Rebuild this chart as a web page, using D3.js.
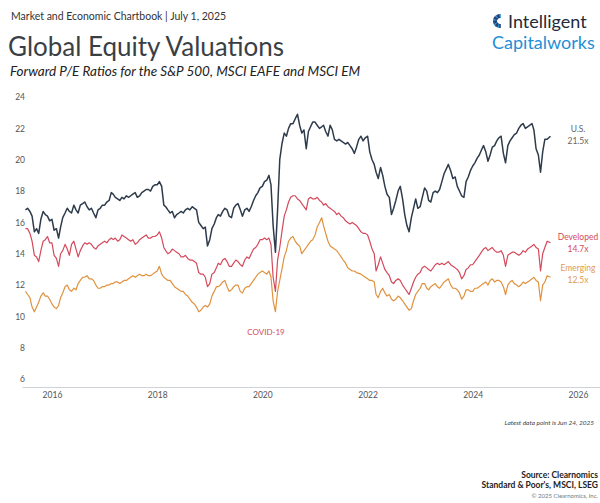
<html>
<head>
<style>
  body { margin: 0; background: #fff; font-family: Lato, "Open Sans", sans-serif; }
  svg { display: block; }
</style>
<script src="https://cdn.jsdelivr.net/npm/d3@7"></script>
</head>
<body>
<svg id="chart" width="600" height="503"></svg>
<script>

// forward P/E, one value on the 1st and the 16th of each month, Jul 2015 .. Jun 2025
let usPE = [
  16.8, 16.9, 16.7, 16.4, 15.4, 15.6, 15.3, 16.2, 16.7, 16.5, 16.4, 16.1,
  16.2, 15.5, 15.6, 15.0, 15.7, 16.3, 16.6, 16.9, 16.7, 16.6, 17.1, 16.8, 16.6, 17.1, 17.2, 17.3, 17.0, 16.8, 16.9, 16.6, 16.3, 16.8, 16.9, 17.1,
  17.1, 17.3, 17.4, 17.9, 17.8, 17.6, 17.5, 17.4, 17.6, 17.5, 17.7, 17.6, 17.7, 17.8, 17.9, 17.6, 17.7, 17.9, 18.0, 18.1, 18.1, 18.0, 18.3, 18.4,
  18.4, 18.6, 18.3, 17.1, 17.0, 16.8, 16.6, 16.7, 16.3, 16.5, 16.6, 16.7, 16.6, 16.8, 16.9, 16.8, 17.0, 16.9, 16.8, 16.0, 15.8, 15.6, 15.7, 14.5,
  14.9, 15.6, 15.9, 16.3, 16.5, 16.4, 16.7, 16.9, 16.8, 16.4, 16.3, 16.9, 17.1, 17.2, 16.8, 16.4, 16.8, 16.9, 16.7, 17.0, 17.4, 17.7, 17.9, 18.2,
  18.3, 18.6, 18.7, 19.0, 18.4, 15.8, 14.1, 16.8, 20.0, 21.0, 21.7, 21.5, 22.0, 22.3, 22.3, 22.6, 22.9, 22.2, 21.7, 21.9, 20.7, 21.8, 22.1, 22.4,
  22.4, 22.2, 22.0, 22.1, 22.2, 21.8, 21.5, 22.2, 21.9, 21.3, 21.2, 21.3, 21.2, 21.1, 21.0, 21.1, 20.9, 20.7, 20.4, 20.8, 21.3, 21.5, 21.2, 21.4,
  21.5, 20.5, 20.0, 19.7, 19.2, 18.8, 19.5, 19.0, 18.3, 17.8, 17.6, 16.5, 16.9, 17.4, 18.0, 18.3, 17.5, 16.5, 15.8, 15.4, 16.3, 16.9, 17.5, 16.9,
  17.0, 17.6, 18.2, 18.0, 17.4, 17.3, 17.9, 18.0, 17.9, 18.1, 18.6, 19.1, 19.4, 19.7, 19.3, 18.8, 18.9, 18.3, 18.0, 17.7, 17.6, 18.6, 18.9, 19.3,
  19.6, 19.8, 20.1, 20.3, 20.6, 20.9, 20.5, 19.9, 20.3, 20.8, 20.9, 21.2, 21.4, 21.5, 20.4, 19.8, 20.9, 21.2, 21.4, 21.6, 21.7, 22.0, 22.2, 22.3,
  22.0, 22.1, 22.2, 22.3, 21.9, 20.7, 20.3, 19.2, 20.5, 21.3, 21.3, 21.5
]

let developedPE = [
  15.6, 15.6, 15.3, 14.8, 13.9, 13.8, 13.5, 14.2, 14.8, 14.9, 15.1, 14.7,
  14.7, 13.9, 13.7, 13.2, 14.0, 14.2, 14.6, 14.3, 13.9, 14.6, 14.8, 14.3, 13.8, 14.2, 14.5, 14.7, 14.6, 14.7, 14.6, 14.4, 14.3, 14.5, 14.6, 14.7,
  14.8, 14.7, 14.9, 15.0, 14.9, 15.0, 14.8, 14.9, 15.2, 15.1, 15.0, 14.9, 14.8, 14.9, 14.6, 14.7, 14.9, 15.0, 15.1, 15.2, 15.0, 15.0, 15.1, 15.1,
  15.2, 15.4, 15.0, 14.4, 14.2, 14.0, 14.1, 14.3, 14.2, 14.1, 14.0, 13.8, 13.8, 13.9, 13.7, 13.6, 13.6, 13.5, 13.4, 12.8, 12.7, 12.7, 12.5, 11.9,
  12.1, 12.7, 12.8, 13.1, 13.4, 13.3, 13.6, 13.7, 13.5, 13.2, 13.2, 13.4, 13.6, 13.5, 13.3, 13.2, 13.6, 13.8, 13.7, 14.0, 14.3, 14.4, 14.6, 14.9,
  14.9, 15.0, 14.9, 15.0, 14.6, 12.5, 11.6, 13.6, 14.4, 15.4, 16.4, 16.8, 17.3, 17.6, 17.7, 17.7, 17.5, 17.4, 17.2, 17.0, 16.8, 17.5, 17.6, 17.5,
  17.5, 17.6, 17.4, 17.3, 17.1, 17.2, 17.0, 16.9, 16.8, 16.7, 16.5, 16.6, 16.4, 16.3, 16.1, 16.0, 15.9, 16.0, 15.9, 15.8, 15.6, 15.4, 15.3, 15.3,
  15.2, 14.8, 14.3, 14.0, 12.9, 13.3, 13.8, 13.4, 13.0, 12.8, 12.6, 12.2, 12.1, 12.3, 12.4, 12.3, 12.0, 11.8, 11.6, 11.4, 11.8, 12.2, 12.5, 12.7,
  12.8, 13.1, 13.2, 13.1, 13.0, 12.9, 13.1, 13.3, 13.4, 13.3, 13.4, 13.3, 13.4, 13.5, 13.3, 13.2, 13.1, 13.0, 12.8, 12.4, 12.6, 13.0, 13.1, 13.3,
  13.3, 13.5, 13.7, 13.9, 14.1, 14.3, 14.4, 14.2, 14.3, 14.4, 14.2, 14.1, 14.1, 14.2, 13.9, 13.2, 13.9, 14.0, 14.1, 14.1, 14.0, 13.9, 14.0, 14.2,
  14.1, 14.3, 14.4, 14.5, 14.6, 14.4, 14.3, 12.9, 14.0, 14.4, 14.8, 14.7
]

let emergingPE = [
  11.6, 11.4, 11.2, 10.6, 10.3, 10.6, 10.9, 11.3, 11.5, 11.3, 11.3, 11.1,
  10.8, 10.6, 10.5, 10.7, 11.2, 11.5, 11.9, 12.0, 11.7, 11.6, 11.8, 11.7, 12.1, 12.3, 12.5, 12.5, 12.6, 12.4, 12.4, 12.3, 12.0, 11.8, 11.8, 11.9,
  11.9, 12.0, 12.0, 12.1, 12.1, 12.2, 12.2, 12.1, 12.2, 12.3, 12.3, 12.4, 12.5, 12.6, 12.5, 12.6, 12.7, 12.6, 12.6, 12.7, 12.6, 12.6, 12.7, 12.8,
  12.9, 13.2, 12.7, 12.5, 12.4, 12.3, 12.3, 12.1, 11.9, 11.8, 11.7, 11.6, 11.6, 11.4, 11.3, 11.1, 10.9, 10.8, 10.6, 10.3, 10.4, 10.6, 10.7, 10.6,
  10.8, 11.3, 11.6, 11.9, 11.9, 12.0, 12.2, 12.3, 11.9, 11.6, 11.7, 11.9, 12.0, 12.0, 11.6, 11.5, 11.8, 11.9, 11.9, 12.1, 12.3, 12.5, 12.7, 12.8,
  12.9, 12.8, 12.7, 12.9, 12.5, 11.0, 10.3, 11.6, 12.3, 13.0, 13.8, 14.2, 14.8, 15.0, 15.1, 14.8, 14.6, 14.5, 14.0, 14.2, 14.4, 14.6, 14.8, 14.9,
  15.2, 15.7, 16.0, 16.3, 15.8, 15.3, 14.8, 14.5, 14.4, 14.3, 14.2, 14.0, 13.8, 13.6, 13.4, 13.1, 13.0, 12.9, 12.9, 12.8, 12.75, 12.7, 12.6, 12.5,
  12.4, 12.3, 12.3, 12.2, 11.4, 11.2, 11.6, 11.8, 11.5, 11.3, 11.4, 11.1, 11.0, 11.1, 11.3, 11.2, 11.0, 10.8, 10.6, 10.4, 10.5, 11.0, 11.4, 11.6,
  11.8, 12.1, 12.1, 11.8, 11.7, 11.9, 12.0, 12.1, 11.9, 11.8, 12.0, 12.2, 12.3, 12.4, 12.0, 11.8, 11.8, 11.7, 11.5, 11.1, 11.3, 11.7, 11.7, 11.6,
  11.6, 11.8, 11.8, 11.9, 12.0, 12.1, 12.2, 12.0, 12.3, 12.4, 12.2, 12.3, 12.3, 12.2, 11.9, 11.4, 12.0, 12.2, 12.3, 12.1, 12.0, 11.9, 12.0, 12.2,
  12.1, 12.2, 12.3, 12.4, 12.5, 12.3, 12.2, 11.0, 12.0, 12.2, 12.6, 12.5
]

let yTicks = [6, 8, 10, 12, 14, 16, 18, 20, 22, 24]
let yearTicks = [2016, 2018, 2020, 2022, 2024, 2026]

let seriesNames = ["U.S.", "Developed", "Emerging"]
let latestLabels = ["21.5x", "14.7x", "12.5x"]

// dates: 1st and 16th of every month from Jul 2015, last point is Jun 24 2025
let startMonth = new Date(Date.UTC(2015, 6, 1))
let dates = usPE.map((v, i) => {
  let m = d3.utcMonth.offset(startMonth, Math.floor(i / 2))
  return i % 2 ? d3.utcDay.offset(m, 15) : m
})
dates[dates.length - 1] = new Date(Date.UTC(2025, 5, 24))

let svg = d3.select("#chart")

let x = d3.scaleUtc()
  .domain([new Date(Date.UTC(2015, 5, 7)), new Date(Date.UTC(2026, 5, 3))])
  .range([22, 600])

let y = d3.scaleLinear()
  .domain([5.5, 24])
  .range([387, 97])

// header
svg.append("text").attr("x", 11).attr("y", 20)
  .attr("font-size", 10.5).attr("fill", "#333")
  .text("Market and Economic Chartbook | July 1, 2025")

svg.append("text").attr("x", 8).attr("y", 56)
  .attr("font-size", 26).attr("fill", "#3a3f45")
  .text("Global Equity Valuations")

svg.append("text").attr("x", 10).attr("y", 76)
  .attr("font-size", 13.5).attr("font-style", "italic").attr("fill", "#222")
  .text("Forward P/E Ratios for the S&P 500, MSCI EAFE and MSCI EM")

// logo
let logo = svg.append("g").attr("transform", "translate(500,21)")
d3.range(14).forEach(i => {
  let a = -Math.PI / 2 - i * Math.PI / 13
  logo.append("line")
    .attr("x1", Math.cos(a) * 3).attr("y1", Math.sin(a) * 3)
    .attr("x2", Math.cos(a) * 7).attr("y2", Math.sin(a) * 7)
    .attr("stroke", i % 3 == 0 ? "#1f8fd6" : "#2a3a6a").attr("stroke-width", 1.6)
})
svg.append("text").attr("x", 508).attr("y", 28)
  .attr("font-size", 18).attr("fill", "#1f2a3a")
  .text("Intelligent")
svg.append("text").attr("x", 492).attr("y", 49)
  .attr("font-size", 18).attr("fill", "#1f8fd6")
  .text("Capitalworks")

// axes
let yAxis = svg.append("g")
  .attr("transform", "translate(25,0)")
  .call(d3.axisLeft(y).tickValues(yTicks).tickSize(0).tickPadding(0))
yAxis.select(".domain").remove()
yAxis.selectAll("text").attr("font-size", 8.5).attr("fill", "#555").attr("font-family", "Lato, sans-serif")

let xAxis = svg.append("g")
  .attr("transform", "translate(0,387)")
  .call(d3.axisBottom(x)
    .tickValues(yearTicks.map(yr => new Date(Date.UTC(yr, 0, 1))))
    .tickFormat(d3.utcFormat("%Y"))
    .tickSize(0).tickPadding(5))
xAxis.select(".domain").attr("stroke", "#cfd3d8")
xAxis.selectAll("text").attr("font-size", 8.5).attr("fill", "#555").attr("font-family", "Lato, sans-serif")

// lines
let line = d3.line()
  .x((d, i) => x(dates[i]))
  .y(d => y(d))

let series = [
  { name: seriesNames[0], values: usPE, color: "#2e3b4b", width: 1.5 },
  { name: seriesNames[1], values: developedPE, color: "#d4495b", width: 1.2 },
  { name: seriesNames[2], values: emergingPE, color: "#e0913d", width: 1.2 }
]

svg.selectAll("path.series").data(series)
  .enter().append("path")
  .attr("class", "series")
  .attr("d", d => line(d.values))
  .attr("fill", "none")
  .attr("stroke", d => d.color)
  .attr("stroke-width", d => d.width)
  .attr("stroke-linejoin", "round")

// end labels
let labelColors = ["#666", "#d4495b", "#e39a4f"]
let labelY = [132, 240, 271]
series.forEach((s, i) => {
  svg.append("text").attr("x", 578).attr("y", labelY[i])
    .attr("text-anchor", "middle").attr("font-size", 8.5)
    .attr("fill", labelColors[i]).text(s.name)
  svg.append("text").attr("x", 578).attr("y", labelY[i] + 12)
    .attr("text-anchor", "middle").attr("font-size", 8.5)
    .attr("fill", labelColors[i]).text(latestLabels[i])
})

svg.append("text").attr("x", 266).attr("y", 335)
  .attr("text-anchor", "middle").attr("font-size", 8)
  .attr("fill", "#d4495b").text("COVID-19")

// footer
svg.append("text").attr("x", 594).attr("y", 425)
  .attr("text-anchor", "end").attr("font-size", 6.5).attr("font-style", "italic")
  .attr("fill", "#444").text("Latest data point is Jun 24, 2025")

svg.append("text").attr("x", 598).attr("y", 478)
  .attr("text-anchor", "end").attr("font-size", 8.5).attr("font-weight", "bold")
  .attr("fill", "#222").text("Source: Clearnomics")
svg.append("text").attr("x", 598).attr("y", 488)
  .attr("text-anchor", "end").attr("font-size", 8.5).attr("font-weight", "bold")
  .attr("fill", "#222").text("Standard & Poor's, MSCI, LSEG")
svg.append("text").attr("x", 598).attr("y", 498)
  .attr("text-anchor", "end").attr("font-size", 6).attr("fill", "#777")
  .text("© 2025 Clearnomics, Inc.")

</script>
</body>
</html>
